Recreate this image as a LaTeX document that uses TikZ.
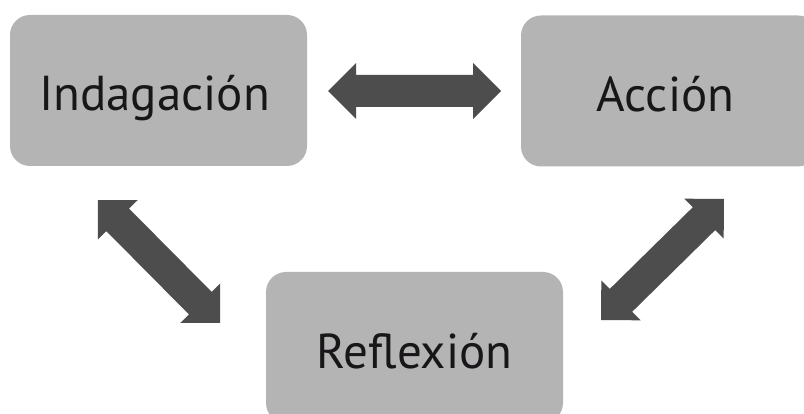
\documentclass[tikz,border=0pt]{standalone}
\usepackage{fontspec}
\setmainfont{PT Sans}
\usetikzlibrary{calc}
\definecolor{boxgray}{RGB}{180,180,180}
\definecolor{arrgray}{RGB}{77,77,77}
\definecolor{txt}{RGB}{24,22,24}
\tikzset{
  box/.style={fill=boxgray, rounded corners=20pt, minimum width=297pt, minimum height=151pt,
    inner sep=0pt, text=txt, font=\fontsize{49}{50}\selectfont, anchor=center,
    text height=41pt, text depth=0pt},
  arrowfill/.style={fill=arrgray}
}
\newcommand\dblarr[2]{%
  \path ($(#1)!28pt!(#2)$) coordinate (pa) ($(#2)!28pt!(#1)$) coordinate (pb);
  \fill[arrowfill] (#1) -- ($(pa)!28pt!90:(#2)$) -- ($(pa)!16pt!90:(#2)$)
    -- ($(pb)!16pt!-90:(#1)$) -- ($(pb)!28pt!-90:(#1)$) -- (#2)
    -- ($(pb)!28pt!90:(#1)$) -- ($(pb)!16pt!90:(#1)$)
    -- ($(pa)!16pt!-90:(#2)$) -- ($(pa)!28pt!-90:(#2)$) -- cycle;}
\begin{document}
\begin{tikzpicture}[x=1pt,y=-1pt]
\useasboundingbox (0,0) rectangle (804,414);
\clip (0,0) rectangle (804,414);
\fill[white] (0,0) rectangle (804,414);
\node[box] (ind) at (158.5,90.5) {\hspace*{-8pt}Indagación};
\node[box] (acc) at (669.5,91) {Acción\hspace*{8pt}};
\node[box] (ref) at (414.5,347.5) {Reflexión};
\coordinate (h1) at (328,91);
\coordinate (h2) at (501,91);
\coordinate (l1) at (98,200);
\coordinate (l2) at (220,323);
\coordinate (r1) at (724,199);
\coordinate (r2) at (601,320);
\dblarr{h1}{h2}
\dblarr{l1}{l2}
\dblarr{r1}{r2}
\end{tikzpicture}
\end{document}
